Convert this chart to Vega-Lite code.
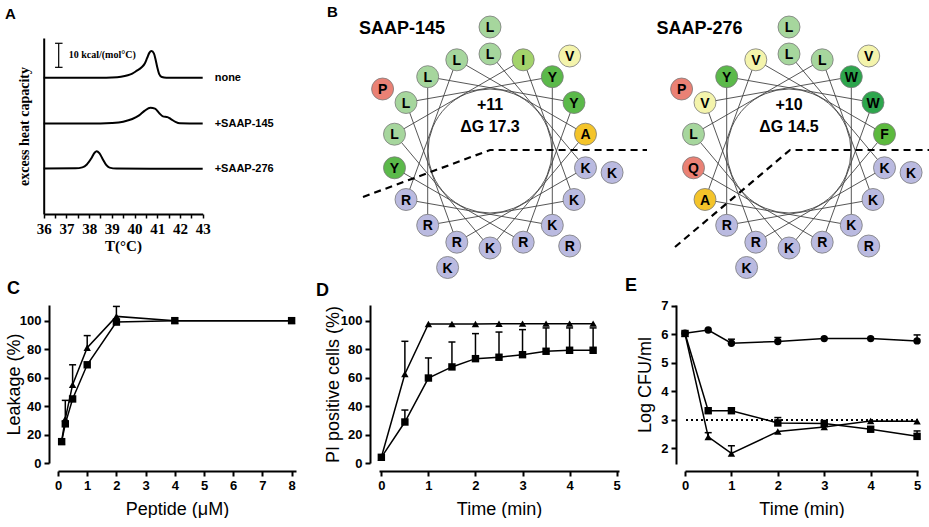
{
"$schema": "https://vega.github.io/schema/vega-lite/v6.json",
"background": "white",
"padding": {"left": 5, "top": 5, "right": 0, "bottom": 0},
"config": {
  "view": {"stroke": null},
  "font": "Liberation Sans",
  "title": {"fontSize": 18, "fontWeight": "bold", "anchor": "start", "frame": "group", "color": "black", "font": "Liberation Sans"},
  "axis": {"domainColor": "black", "domainWidth": 2, "tickColor": "black", "tickWidth": 2, "tickSize": 5, "labelFont": "Liberation Sans", "labelFontWeight": "bold", "labelFontSize": 13, "labelColor": "black", "labelPadding": 3, "titleFont": "Liberation Sans", "titleFontWeight": "normal", "titleFontSize": 18, "titleColor": "black", "grid": false, "labelFlush": false, "labelOverlap": false}
},
"datasets": {
  "wheel": [
    {"w":"145","n":1,"aa":"L","x":0,"y":97},{"w":"145","n":2,"aa":"K","x":95.5,"y":-16.8},{"w":"145","n":3,"aa":"R","x":-33.2,"y":-91.2},{"w":"145","n":4,"aa":"L","x":-84.0,"y":48.5},{"w":"145","n":5,"aa":"Y","x":62.3,"y":74.3},{"w":"145","n":6,"aa":"K","x":62.3,"y":-74.3},{"w":"145","n":7,"aa":"R","x":-84.0,"y":-48.5},{"w":"145","n":8,"aa":"L","x":-33.2,"y":91.2},{"w":"145","n":9,"aa":"A","x":95.5,"y":16.8},{"w":"145","n":10,"aa":"K","x":0,"y":-97},{"w":"145","n":11,"aa":"L","x":-95.5,"y":16.8},{"w":"145","n":12,"aa":"I","x":33.2,"y":91.2},{"w":"145","n":13,"aa":"K","x":84.0,"y":-48.5},{"w":"145","n":14,"aa":"R","x":-62.3,"y":-74.3},{"w":"145","n":15,"aa":"L","x":-62.3,"y":74.3},{"w":"145","n":16,"aa":"Y","x":84.0,"y":48.5},{"w":"145","n":17,"aa":"R","x":33.2,"y":-91.2},{"w":"145","n":18,"aa":"Y","x":-95.5,"y":-16.8},{"w":"145","n":19,"aa":"L","x":0,"y":124},{"w":"145","n":20,"aa":"K","x":122.1,"y":-21.5},{"w":"145","n":21,"aa":"K","x":-42.4,"y":-116.5},{"w":"145","n":22,"aa":"P","x":-107.4,"y":62.0},{"w":"145","n":23,"aa":"V","x":79.7,"y":95.0},{"w":"145","n":24,"aa":"R","x":79.7,"y":-95.0},
    {"w":"276","n":1,"aa":"L","x":299,"y":97},{"w":"276","n":2,"aa":"K","x":394.5,"y":-16.8},{"w":"276","n":3,"aa":"R","x":265.8,"y":-91.2},{"w":"276","n":4,"aa":"V","x":215.0,"y":48.5},{"w":"276","n":5,"aa":"W","x":361.3,"y":74.3},{"w":"276","n":6,"aa":"K","x":361.3,"y":-74.3},{"w":"276","n":7,"aa":"A","x":215.0,"y":-48.5},{"w":"276","n":8,"aa":"V","x":265.8,"y":91.2},{"w":"276","n":9,"aa":"F","x":394.5,"y":16.8},{"w":"276","n":10,"aa":"K","x":299,"y":-97},{"w":"276","n":11,"aa":"L","x":203.5,"y":16.8},{"w":"276","n":12,"aa":"L","x":332.2,"y":91.2},{"w":"276","n":13,"aa":"K","x":383.0,"y":-48.5},{"w":"276","n":14,"aa":"R","x":236.7,"y":-74.3},{"w":"276","n":15,"aa":"Y","x":236.7,"y":74.3},{"w":"276","n":16,"aa":"W","x":383.0,"y":48.5},{"w":"276","n":17,"aa":"R","x":332.2,"y":-91.2},{"w":"276","n":18,"aa":"Q","x":203.5,"y":-16.8},{"w":"276","n":19,"aa":"L","x":299,"y":124},{"w":"276","n":20,"aa":"K","x":421.1,"y":-21.5},{"w":"276","n":21,"aa":"K","x":256.6,"y":-116.5},{"w":"276","n":22,"aa":"P","x":191.6,"y":62.0},{"w":"276","n":23,"aa":"V","x":378.7,"y":95.0},{"w":"276","n":24,"aa":"R","x":378.7,"y":-95.0}
  ]
},
"spacing": -5,
"columns": 1,
"align": "none",
"concat": [
 {"spacing": 53, "hconcat": [
  {
   "width": 145, "height": 176,
   "title": {"text": "A", "dx": -53, "offset": 16, "fontSize": 15},
   "layer": [
    {"data": {"values": [
      {"s":"none","T":36,"v":56.7},{"s":"none","T":38.5,"v":56.7},{"s":"none","T":39.0,"v":56.8},{"s":"none","T":39.4,"v":57.1},{"s":"none","T":39.7,"v":57.7},{"s":"none","T":39.9,"v":58.4},{"s":"none","T":40.1,"v":59.6},{"s":"none","T":40.3,"v":60.9},{"s":"none","T":40.45,"v":62.6},{"s":"none","T":40.55,"v":64.8},{"s":"none","T":40.65,"v":67.0},{"s":"none","T":40.75,"v":67.8},{"s":"none","T":40.85,"v":66.8},{"s":"none","T":40.92,"v":64.5},{"s":"none","T":41.0,"v":61.0},{"s":"none","T":41.08,"v":58.3},{"s":"none","T":41.2,"v":57.0},{"s":"none","T":41.4,"v":56.7},{"s":"none","T":43,"v":56.7},
      {"s":"145","T":36,"v":37.6},{"s":"145","T":38.5,"v":37.6},{"s":"145","T":39.0,"v":37.8},{"s":"145","T":39.5,"v":38.4},{"s":"145","T":39.9,"v":39.5},{"s":"145","T":40.2,"v":41.0},{"s":"145","T":40.45,"v":43.0},{"s":"145","T":40.7,"v":44.2},{"s":"145","T":40.9,"v":43.8},{"s":"145","T":41.1,"v":41.8},{"s":"145","T":41.25,"v":40.6},{"s":"145","T":41.45,"v":40.3},{"s":"145","T":41.6,"v":39.5},{"s":"145","T":41.8,"v":38.3},{"s":"145","T":42.0,"v":37.7},{"s":"145","T":43,"v":37.6},
      {"s":"276","T":36,"v":18.9},{"s":"276","T":37.4,"v":19.0},{"s":"276","T":37.7,"v":19.4},{"s":"276","T":37.9,"v":20.6},{"s":"276","T":38.1,"v":23.2},{"s":"276","T":38.25,"v":25.6},{"s":"276","T":38.33,"v":26.1},{"s":"276","T":38.45,"v":25.3},{"s":"276","T":38.6,"v":22.8},{"s":"276","T":38.75,"v":20.4},{"s":"276","T":38.9,"v":19.3},{"s":"276","T":39.2,"v":18.9},{"s":"276","T":43,"v":18.8}
     ]},
     "mark": {"type": "line", "color": "black", "strokeWidth": 2, "interpolate": "monotone"},
     "encoding": {
      "x": {"field": "T", "type": "quantitative", "scale": {"domain": [36, 43], "range": [-14.3, 144.7], "nice": false, "zero": false},
            "axis": {"values": [36,36.5,37,37.5,38,38.5,39,39.5,40,40.5,41,41.5,42,42.5,43], "tickCount": 50, "format": ".1f", "labelOverlap": false, "labelExpr": "datum.value % 1 === 0 ? format(datum.value, 'd') : ''", "labelFont": "Liberation Serif", "labelFontSize": 15, "tickSize": 4, "tickWidth": 1.5, "title": "T(°C)", "titleFont": "Liberation Serif", "titleFontWeight": "bold", "titleFontSize": 15, "titlePadding": 2, "titleX": 65}},
      "y": {"field": "v", "type": "quantitative", "scale": {"domain": [0, 73.2], "nice": false},
            "axis": {"ticks": false, "labels": false, "offset": 14.3, "title": "excess heat capacity", "titleFont": "Liberation Serif", "titleFontWeight": "bold", "titleFontSize": 14, "titlePadding": 12}},
      "detail": {"field": "s"}
     }
    },
    {"data": {"values": [{"T":43,"v":56.7,"lab":"none"},{"T":43,"v":37.6,"lab":"+SAAP-145"},{"T":43,"v":18.9,"lab":"+SAAP-276"}]},
     "mark": {"type": "text", "align": "left", "baseline": "middle", "dx": 12, "fontWeight": "bold", "fontSize": 11, "color": "black"},
     "encoding": {"x": {"field": "T", "type": "quantitative"}, "y": {"field": "v", "type": "quantitative"}, "text": {"field": "lab"}}
    },
    {"data": {"values": [{"T":36.66,"v":61,"v2":71}]},
     "mark": {"type": "rule", "color": "black", "strokeWidth": 1.2},
     "encoding": {"x": {"field": "T", "type": "quantitative"}, "y": {"field": "v", "type": "quantitative"}, "y2": {"field": "v2"}}
    },
    {"data": {"values": [{"T":36.5,"T2":36.83,"v":61},{"T":36.5,"T2":36.83,"v":71}]},
     "mark": {"type": "rule", "color": "black", "strokeWidth": 1.2},
     "encoding": {"x": {"field": "T", "type": "quantitative"}, "x2": {"field": "T2"}, "y": {"field": "v", "type": "quantitative"}}
    },
    {"data": {"values": [{"T":37.1,"v":66,"lab":"10 kcal/(mol°C)"}]},
     "mark": {"type": "text", "align": "left", "baseline": "middle", "font": "Liberation Serif", "fontWeight": "bold", "fontSize": 10, "color": "black"},
     "encoding": {"x": {"field": "T", "type": "quantitative"}, "y": {"field": "v", "type": "quantitative"}, "text": {"field": "lab"}}
    }
   ]
  },
  {
   "width": 594, "height": 236,
   "title": {"text": "B", "dx": -8, "offset": -6, "fontSize": 15},
   "layer": [
    {"data": {"name": "wheel"},
     "transform": [{"filter": "datum.n <= 18"}],
     "mark": {"type": "line", "color": "#444444", "strokeWidth": 0.9},
     "encoding": {
      "x": {"field": "x", "type": "quantitative", "scale": {"domain": [-155, 439], "nice": false, "zero": false}, "axis": null},
      "y": {"field": "y", "type": "quantitative", "scale": {"domain": [-123, 113], "nice": false, "zero": false}, "axis": null},
      "detail": {"field": "w"},
      "order": {"field": "n", "type": "quantitative"}
     }
    },
    {"data": {"values": [{"x":0,"y":0},{"x":299,"y":0}]},
     "mark": {"type": "point", "shape": "circle", "size": 15376, "filled": false, "color": "#444444", "strokeWidth": 0.9, "opacity": 1},
     "encoding": {"x": {"field": "x", "type": "quantitative", "axis": null}, "y": {"field": "y", "type": "quantitative", "axis": null}}
    },
    {"data": {"values": [
      {"g":"a","o":1,"x":-127,"y":-46},{"g":"a","o":2,"x":0,"y":1},{"g":"a","o":3,"x":157,"y":1},
      {"g":"b","o":1,"x":185,"y":-96},{"g":"b","o":2,"x":300,"y":1},{"g":"b","o":3,"x":439,"y":1}
     ]},
     "mark": {"type": "line", "color": "black", "strokeWidth": 2.2, "strokeDash": [7, 5]},
     "encoding": {"x": {"field": "x", "type": "quantitative", "axis": null}, "y": {"field": "y", "type": "quantitative", "axis": null}, "detail": {"field": "g"}, "order": {"field": "o", "type": "quantitative"}}
    },
    {"data": {"name": "wheel"},
     "mark": {"type": "point", "shape": "circle", "size": 484, "filled": true, "stroke": "#7a7a7a", "strokeWidth": 0.8, "opacity": 1, "fillOpacity": 1},
     "encoding": {
      "x": {"field": "x", "type": "quantitative", "axis": null}, "y": {"field": "y", "type": "quantitative", "axis": null},
      "fill": {"field": "aa", "type": "nominal", "legend": null,
               "scale": {"domain": ["L","I","V","Y","W","F","A","P","Q","K","R"], "range": ["#a6d69d","#a3d36b","#f4f4ac","#5bb94a","#2da64d","#5cb93d","#f4c42a","#ea8175","#ea8175","#babae0","#babae0"]}}
     }
    },
    {"data": {"name": "wheel"},
     "mark": {"type": "text", "fontWeight": "bold", "fontSize": 14, "baseline": "middle", "align": "center", "dy": 1, "color": "black"},
     "encoding": {"x": {"field": "x", "type": "quantitative", "axis": null}, "y": {"field": "y", "type": "quantitative", "axis": null}, "text": {"field": "aa"}}
    },
    {"data": {"values": [
      {"x":0,"y":46,"t":"+11"},{"x":0,"y":24,"t":"ΔG 17.3"},{"x":299,"y":46,"t":"+10"},{"x":299,"y":24,"t":"ΔG 14.5"}
     ]},
     "mark": {"type": "text", "fontWeight": "bold", "fontSize": 16, "baseline": "middle", "align": "center", "color": "black"},
     "encoding": {"x": {"field": "x", "type": "quantitative", "axis": null}, "y": {"field": "y", "type": "quantitative", "axis": null}, "text": {"field": "t"}}
    },
    {"data": {"values": [{"x":-88,"y":122,"t":"SAAP-145"},{"x":209.5,"y":122,"t":"SAAP-276"}]},
     "mark": {"type": "text", "fontWeight": "bold", "fontSize": 18, "baseline": "middle", "align": "center", "color": "black"},
     "encoding": {"x": {"field": "x", "type": "quantitative", "axis": null}, "y": {"field": "y", "type": "quantitative", "axis": null}, "text": {"field": "t"}}
    }
   ]
  }
 ]},
 {"spacing": 20, "hconcat": [
  {
   "width": 238, "height": 158,
   "title": {"text": "C", "dx": -51, "offset": 5},
   "data": {"values": [
     {"s":"sq","x":0.125,"y":15},{"s":"sq","x":0.25,"y":27.5},{"s":"sq","x":0.5,"y":45},{"s":"sq","x":1,"y":69},{"s":"sq","x":2,"y":99},{"s":"sq","x":4,"y":100},{"s":"sq","x":8,"y":100},
     {"s":"tri","x":0.125,"y":15.5},{"s":"tri","x":0.25,"y":31,"hi":44},{"s":"tri","x":0.5,"y":55,"hi":69},{"s":"tri","x":1,"y":81,"hi":89.5},{"s":"tri","x":2,"y":103,"hi":110},{"s":"tri","x":4,"y":100},{"s":"tri","x":8,"y":100}
   ]},
   "layer": [
    {"transform": [{"filter": "isValid(datum.hi)"}],
     "mark": {"type": "rule", "color": "black", "strokeWidth": 1.5},
     "encoding": {
      "x": {"field": "x", "type": "quantitative", "scale": {"domain": [0, 8.15], "nice": false}, "axis": {"values": [0,1,2,3,4,5,6,7,8], "tickCount": 50, "format": "d", "labelOverlap": false, "offset": 8, "title": "Peptide (μM)", "titlePadding": 8}},
      "y": {"field": "y", "type": "quantitative", "scale": {"domain": [0, 111], "nice": false}, "axis": {"values": [0,20,40,60,80,100], "tickCount": 50, "format": "d", "labelOverlap": false, "offset": 9, "title": "Leakage (%)", "titlePadding": -4}},
      "y2": {"field": "hi"}
     }
    },
    {"transform": [{"filter": "isValid(datum.hi)"}],
     "mark": {"type": "point", "shape": "stroke", "size": 49, "color": "black", "strokeWidth": 1.5, "opacity": 1},
     "encoding": {"x": {"field": "x", "type": "quantitative"}, "y": {"field": "hi", "type": "quantitative", "title": "Leakage (%)"}}
    },
    {"mark": {"type": "line", "color": "black", "strokeWidth": 1.5},
     "encoding": {"x": {"field": "x", "type": "quantitative"}, "y": {"field": "y", "type": "quantitative", "title": "Leakage (%)"}, "detail": {"field": "s"}}
    },
    {"mark": {"type": "point", "filled": true, "color": "black", "opacity": 1},
     "encoding": {"x": {"field": "x", "type": "quantitative"}, "y": {"field": "y", "type": "quantitative", "title": "Leakage (%)"},
      "shape": {"field": "s", "type": "nominal", "legend": null, "scale": {"domain": ["sq","tri","circ"], "range": ["square","triangle-up","circle"]}},
      "size": {"value": 55}}
    }
   ]
  },
  {"spacing": 4, "hconcat": [
   {
    "width": 240, "height": 158,
    "title": {"text": "D", "dx": -63, "offset": 5},
    "data": {"values": [
      {"s":"tri","x":0,"y":4},{"s":"tri","x":0.5,"y":62.5,"hi":85.5},{"s":"tri","x":1,"y":97.7},{"s":"tri","x":1.5,"y":97.7},{"s":"tri","x":2,"y":97.7},{"s":"tri","x":2.5,"y":97.8},{"s":"tri","x":3,"y":97.9},{"s":"tri","x":3.5,"y":97.9},{"s":"tri","x":4,"y":97.9},{"s":"tri","x":4.5,"y":97.9},
      {"s":"sq","x":0,"y":4},{"s":"sq","x":0.5,"y":28.8,"hi":37.2},{"s":"sq","x":1,"y":59.7,"hi":73.8},{"s":"sq","x":1.5,"y":67.5,"hi":85},{"s":"sq","x":2,"y":73.3,"hi":90.9},{"s":"sq","x":2.5,"y":74.3,"hi":92},{"s":"sq","x":3,"y":76.1,"hi":93.7},{"s":"sq","x":3.5,"y":78.5,"hi":94.9},{"s":"sq","x":4,"y":79.2,"hi":94.9},{"s":"sq","x":4.5,"y":79.2,"hi":94.9}
    ]},
    "layer": [
     {"transform": [{"filter": "isValid(datum.hi)"}],
      "mark": {"type": "rule", "color": "black", "strokeWidth": 1.5},
      "encoding": {
       "x": {"field": "x", "type": "quantitative", "scale": {"domain": [-0.05, 5.05], "nice": false, "zero": false}, "axis": {"values": [0,1,2,3,4,5], "tickCount": 50, "format": "d", "labelOverlap": false, "offset": 8, "title": "Time (min)", "titlePadding": 8}},
       "y": {"field": "y", "type": "quantitative", "scale": {"domain": [0, 111], "nice": false}, "axis": {"values": [0,20,40,60,80,100], "tickCount": 50, "format": "d", "labelOverlap": false, "offset": 9, "title": "PI positive cells (%)", "titlePadding": -2}},
       "y2": {"field": "hi"}
      }
     },
     {"transform": [{"filter": "isValid(datum.hi)"}],
      "mark": {"type": "point", "shape": "stroke", "size": 49, "color": "black", "strokeWidth": 1.5, "opacity": 1},
      "encoding": {"x": {"field": "x", "type": "quantitative"}, "y": {"field": "hi", "type": "quantitative", "title": "PI positive cells (%)"}}
     },
     {"mark": {"type": "line", "color": "black", "strokeWidth": 1.5},
      "encoding": {"x": {"field": "x", "type": "quantitative"}, "y": {"field": "y", "type": "quantitative", "title": "PI positive cells (%)"}, "detail": {"field": "s"}}
     },
     {"mark": {"type": "point", "filled": true, "color": "black", "opacity": 1},
      "encoding": {"x": {"field": "x", "type": "quantitative"}, "y": {"field": "y", "type": "quantitative", "title": "PI positive cells (%)"},
       "shape": {"field": "s", "type": "nominal", "legend": null, "scale": {"domain": ["sq","tri","circ"], "range": ["square","triangle-up","circle"]}},
       "size": {"value": 55}}
     }
    ]
   },
   {
    "width": 233, "height": 159,
    "title": {"text": "E", "dx": -60, "offset": 5},
    "data": {"values": [
      {"s":"circ","x":0,"y":6.04},{"s":"circ","x":0.5,"y":6.15},{"s":"circ","x":1,"y":5.69,"hi":5.83},{"s":"circ","x":2,"y":5.75,"hi":5.89},{"s":"circ","x":3,"y":5.85},{"s":"circ","x":4,"y":5.85},{"s":"circ","x":5,"y":5.77,"hi":5.98},
      {"s":"sq","x":0,"y":6.03},{"s":"sq","x":0.5,"y":3.32},{"s":"sq","x":1,"y":3.32},{"s":"sq","x":2,"y":2.89,"hi":3.08},{"s":"sq","x":3,"y":2.87},{"s":"sq","x":4,"y":2.67},{"s":"sq","x":5,"y":2.42,"hi":2.61},
      {"s":"tri","x":0,"y":6.02},{"s":"tri","x":0.5,"y":2.40,"hi":2.55},{"s":"tri","x":1,"y":1.82,"hi":2.09},{"s":"tri","x":2,"y":2.59},{"s":"tri","x":3,"y":2.75},{"s":"tri","x":4,"y":2.96},{"s":"tri","x":5,"y":2.95}
    ]},
    "layer": [
     {"mark": {"type": "rule", "color": "black", "strokeWidth": 1.5, "strokeDash": [2, 3]},
      "encoding": {"y": {"datum": 3, "type": "quantitative"}}
     },
     {"transform": [{"filter": "isValid(datum.hi)"}],
      "mark": {"type": "rule", "color": "black", "strokeWidth": 1.5},
      "encoding": {
       "x": {"field": "x", "type": "quantitative", "scale": {"domain": [0, 5.02], "nice": false}, "axis": {"values": [0,1,2,3,4,5], "tickCount": 50, "format": "d", "labelOverlap": false, "offset": 7, "title": "Time (min)", "titlePadding": 8}},
       "y": {"field": "y", "type": "quantitative", "scale": {"domain": [1.45, 7.03], "nice": false, "zero": false}, "axis": {"values": [2,3,4,5,6,7], "tickCount": 50, "format": "d", "labelOverlap": false, "offset": 9, "title": "Log CFU/ml", "titlePadding": 6}},
       "y2": {"field": "hi"}
      }
     },
     {"transform": [{"filter": "isValid(datum.hi)"}],
      "mark": {"type": "point", "shape": "stroke", "size": 49, "color": "black", "strokeWidth": 1.5, "opacity": 1},
      "encoding": {"x": {"field": "x", "type": "quantitative"}, "y": {"field": "hi", "type": "quantitative", "title": "Log CFU/ml"}}
     },
     {"mark": {"type": "line", "color": "black", "strokeWidth": 1.5},
      "encoding": {"x": {"field": "x", "type": "quantitative"}, "y": {"field": "y", "type": "quantitative", "title": "Log CFU/ml"}, "detail": {"field": "s"}}
     },
     {"mark": {"type": "point", "filled": true, "color": "black", "opacity": 1},
      "encoding": {"x": {"field": "x", "type": "quantitative"}, "y": {"field": "y", "type": "quantitative", "title": "Log CFU/ml"},
       "shape": {"field": "s", "type": "nominal", "legend": null, "scale": {"domain": ["sq","tri","circ"], "range": ["square","triangle-up","circle"]}},
       "size": {"value": 55}}
     }
    ]
   }
  ]}
 ]}
]
}
